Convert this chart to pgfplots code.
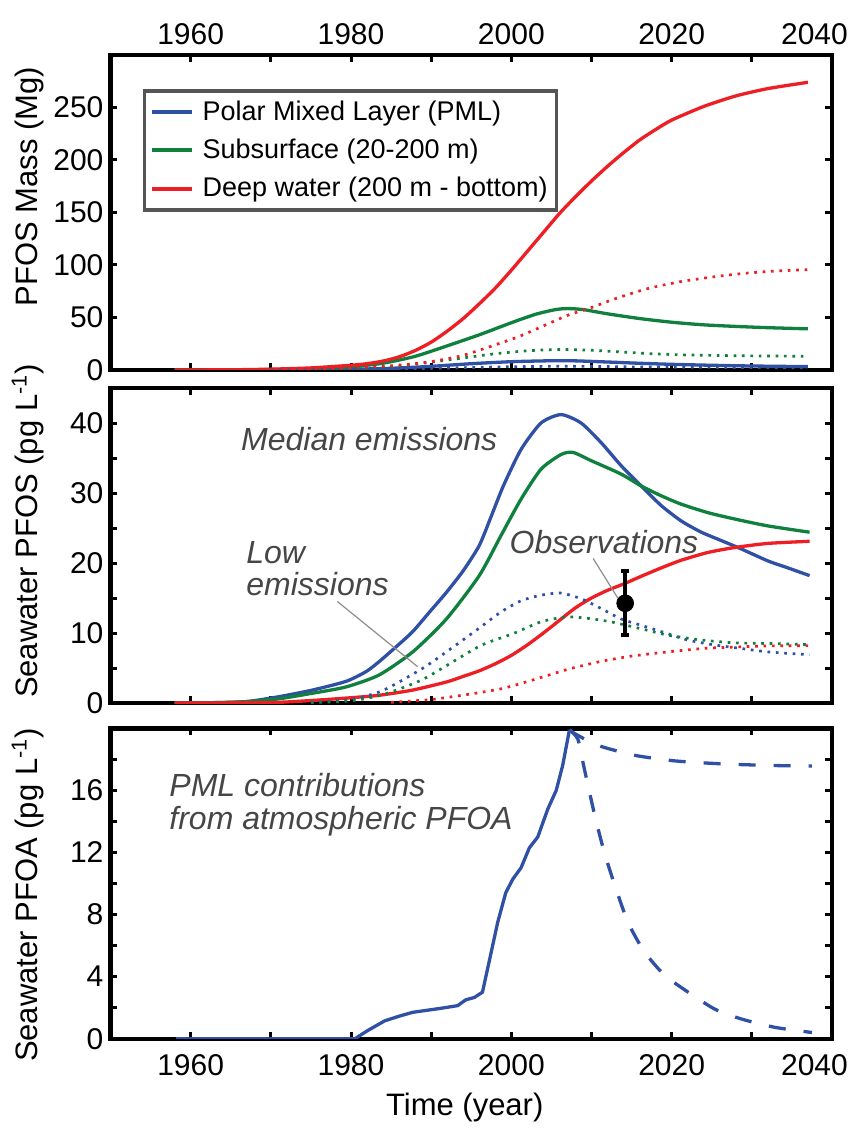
\documentclass[border=0pt]{standalone}
\usepackage{fontspec}
\setmainfont{Liberation Sans}
\usepackage{pgfplots}
\pgfplotsset{compat=1.18}

\definecolor{pblue}{RGB}{48,80,165}
\definecolor{pgreen}{RGB}{16,128,62}
\definecolor{pred}{RGB}{237,30,36}
\definecolor{lgray}{RGB}{85,85,85}
\definecolor{anncol}{RGB}{70,70,70}
\definecolor{leadcol}{RGB}{140,140,140}

\pgfplotsset{
  panel/.style={
    scale only axis, width=360.75pt,
    xmin=1950, xmax=2040,
    xtick={1960,1970,...,2040},
    xtick pos=both, ytick pos=both,
    tick align=inside,
    major tick length=3.5pt,
    tick style={line width=1.5pt, black},
    axis line style={line width=2.2pt, line cap=rect},
    tick label style={font=\fontsize{15}{18}\selectfont},
    label style={font=\fontsize{15.5}{18}\selectfont},
  },
  solid line/.style={line width=1.65pt, smooth, tension=0.4},
  dot line/.style={line width=1.35pt, dash pattern=on 1.35pt off 2.85pt, smooth, tension=0.4},
}
\tikzset{ann/.style={anchor=base west, inner sep=0pt, text=anncol, font=\fontsize{16}{19}\selectfont\itshape}}

\begin{document}
\begin{tikzpicture}

% ---- top: PFOS mass by compartment
\begin{axis}[panel,
  at={(0pt,0pt)}, anchor=south west, height=157.5pt,
  ymin=0, ymax=300,
  ytick={0,50,...,250},
  yticklabels={0,50,100,150,200,250},
  xticklabel pos=upper,
  xticklabels={1960,,1980,,2000,,2020,,\hspace*{-17.5pt}2040},
  xticklabel style={yshift=1.5pt},
  ylabel={PFOS Mass (Mg)},
  ylabel style={at={(axis description cs:-0.1016,0.5825)}, anchor=base},
  legend style={at={(rel axis cs:0.0449,0.891)}, anchor=north west,
    draw=lgray, line width=1.7pt, fill=white,
    font=\fontsize{13.5}{16}\selectfont,
    inner xsep=2.5pt, inner ysep=3pt, row sep=3.8pt, column sep=2.5pt,
    cells={anchor=west}},
  legend image code/.code={\draw[#1, line width=2pt] (0pt,0pt) -- (20pt,0pt);},
]
\addplot[pblue, solid line] coordinates {
 (1958,0) (1970,0.1) (1975,0.3) (1980,0.7) (1985,1.6) (1990,3.5) (1995,6)
 (2000,7.9) (2005,8.8) (2008,8.7) (2012,7.6) (2016,6.4) (2020,5.4) (2025,4.5)
 (2030,3.8) (2037,3.2)};
\addlegendentry{Polar Mixed Layer (PML)}
\addplot[pgreen, solid line] coordinates {
 (1958,0) (1965,0.1) (1970,0.4) (1975,1.2) (1980,3) (1984,6.5) (1988,13)
 (1992,23) (1996,33.5) (2000,45) (2003,53) (2005.5,57.5) (2007,58.5) (2009,57.5)
 (2012,53.5) (2016,49) (2020,45.5) (2024,43) (2028,41.5) (2032,40.3) (2037,39.2)};
\addlegendentry{Subsurface (20-200 m)}
\addplot[pred, solid line] coordinates {
 (1958,0) (1965,0.2) (1970,0.8) (1975,2) (1980,4.5) (1982,6) (1984,8.5)
 (1986,12.5) (1988,18.5) (1990,26.5) (1992,37) (1994,49) (1996,63) (1998,78)
 (2000,95) (2002,113) (2004,131) (2006,149) (2008,165) (2010,180) (2012,194)
 (2014,207) (2016,219) (2018,229) (2020,238) (2024,251) (2028,261) (2032,268)
 (2037,274)};
\addlegendentry{Deep water (200 m - bottom)}
\addplot[pblue, dot line, forget plot] coordinates {
 (1970,0) (1980,0.3) (1985,0.8) (1990,1.5) (1995,2.4) (2000,3.1) (2005,3.5)
 (2010,3.4) (2015,3.0) (2020,2.7) (2030,2.3) (2037,2.1)};
\addplot[pgreen, dot line, forget plot] coordinates {
 (1965,0) (1975,0.3) (1980,1.2) (1985,3) (1990,7.5) (1994,11.5) (1998,15.5)
 (2002,18.3) (2006,19.5) (2010,18.8) (2014,17) (2018,15.3) (2022,14.3)
 (2027,13.7) (2032,13.3) (2037,13.1)};
\addplot[pred, dot line, forget plot] coordinates {
 (1965,0) (1970,0.2) (1975,0.8) (1980,2) (1985,4) (1990,8) (1994,14) (1998,24)
 (2001,32) (2004,42) (2007,52) (2010,59.5) (2013,68) (2017,77.5) (2021,84)
 (2025,88.5) (2029,92) (2033,94.3) (2037,95.5)};
\end{axis}

% ---- middle: seawater PFOS
\begin{axis}[panel,
  at={(0pt,-166.5pt)}, anchor=south west, height=157.5pt,
  ymin=0, ymax=45,
  ytick={0,5,...,40},
  yticklabels={0,,10,,20,,30,,40},
  xticklabels={,,},
  ylabel={Seawater PFOS (pg L\textsuperscript{-1})},
  ylabel style={at={(axis description cs:-0.1016,0.546)}, anchor=base},
]
\addplot[pblue, solid line] coordinates {
 (1958,0) (1963,0.05) (1967,0.2) (1971,0.9) (1975.2,1.85) (1979.4,3.1)
 (1981.9,4.5) (1983.5,5.9) (1985.6,8.0) (1987.7,10.2) (1989.8,13.0)
 (1991.9,15.8) (1994,18.9) (1996,22.5) (1997.5,26.7) (1999,31) (2001.2,36.2)
 (2003.7,40.0) (2006.2,41.2) (2008.7,40.0) (2011.2,37.2) (2013.7,33.9)
 (2016.2,31.0) (2018.7,28.2) (2021.2,26.0) (2023.7,24.4) (2026.2,23.2)
 (2028.7,22.0) (2032,20.3) (2034.5,19.3) (2037.2,18.2)};
\addplot[pgreen, solid line] coordinates {
 (1958,0) (1963,0.05) (1967,0.2) (1971,0.6) (1975.2,1.4) (1979.4,2.3)
 (1983.5,4.0) (1987.7,7.3) (1991.9,12.0) (1996,18.2) (1998.7,23.9)
 (2001.2,29.1) (2003.7,33.4) (2006.2,35.5) (2007.7,35.8) (2010,34.6)
 (2013.7,32.7) (2016.2,31.0) (2018.7,29.6) (2021.2,28.4) (2024.5,27.2)
 (2027.8,26.3) (2032,25.3) (2037.2,24.4)};
\addplot[pred, solid line] coordinates {
 (1958,0) (1966,0.02) (1971,0.1) (1975,0.35) (1979.4,0.7) (1983.5,1.1)
 (1987.7,1.85) (1991.9,3.0) (1994,3.8) (1996,4.6) (1998,5.6) (2000,6.8)
 (2002,8.3) (2004,10.0) (2006,11.8) (2008,13.6) (2010,15.0) (2012,16.1)
 (2014,17.0) (2016.2,18.1) (2018.7,19.3) (2021.2,20.4) (2024.5,21.5)
 (2027.8,22.2) (2032,22.8) (2037.2,23.1)};
\addplot[pblue, dot line] coordinates {
 (1975,0.1) (1980,0.5) (1984,1.8) (1989,5.0) (1992.5,7.8) (1996,10.7)
 (1998.7,13.0) (2001.2,14.6) (2003.7,15.4) (2006.2,15.7) (2008.7,14.9)
 (2011.2,13.5) (2013.7,12.0) (2016.2,11.1) (2018.7,10.2) (2022,9.0)
 (2025.3,8.3) (2028.6,7.8) (2032,7.3) (2037.2,6.9)};
\addplot[pgreen, dot line] coordinates {
 (1975,0.05) (1980,0.3) (1984,1.2) (1989,3.4) (1996,8.1) (2000.2,9.9)
 (2003.7,11.6) (2006.9,12.3) (2009.5,12.1) (2012.4,11.6) (2016.2,10.6)
 (2019.5,9.7) (2023.7,9.0) (2027.8,8.6) (2032,8.5) (2037.2,8.35)};
\addplot[pred, dot line] coordinates {
 (1985,0.1) (1990,0.5) (1995,1.3) (1999,2.1) (2003,3.4) (2007,4.8) (2011,5.9)
 (2015,6.7) (2019.5,7.3) (2024,7.8) (2028,8.0) (2032,8.15) (2037.2,8.2)};
% observation with its range
\addplot[black, mark=*, mark size=4.2pt, only marks,
  error bars/.cd, y dir=both, y explicit,
  error bar style={line width=2pt, black},
  error mark options={rotate=90, mark size=2pt, line width=2pt, black}]
  coordinates {(2014.2,14.25) += (0,4.6) -= (0,4.5)};
\node[ann] at (axis cs:1966.25,36.1) {Median emissions};
\node[ann] at (axis cs:1966.9,19.9) {Low};
\node[ann] at (axis cs:1966.9,15.4) {emissions};
\node[ann] at (axis cs:1999.75,21.4) {Observations};
\draw[leadcol, line width=0.6pt] (axis cs:1978.3,14.5) -- (axis cs:1988.3,5.2);
\draw[leadcol, line width=0.6pt] (axis cs:2010.2,20.65) -- (axis cs:2013.3,14.96);
\end{axis}

% ---- bottom: seawater PFOA
\begin{axis}[panel,
  at={(0pt,-334.35pt)}, anchor=south west, height=155.2pt,
  ymin=0, ymax=20,
  ytick={0,2,...,18},
  yticklabels={0,,4,,8,,12,,16,},
  xticklabels={1960,,1980,,2000,,2020,,\hspace*{-17.5pt}2040},
  xticklabel style={yshift=-4.3pt},
  ylabel={Seawater PFOA (pg L\textsuperscript{-1})},
  ylabel style={at={(axis description cs:-0.1016,0.463)}, anchor=base},
  xlabel={Time (year)},
  xlabel style={at={(axis description cs:0.491,-0.249)}, anchor=base},
]
\addplot[pblue, line width=1.65pt] coordinates {
 (1958.2,0) (1980.5,0) (1982,0.5) (1984.2,1.15) (1986,1.45) (1987.7,1.7)
 (1991.1,1.95) (1993.3,2.13) (1994.3,2.5) (1995.4,2.66) (1996.4,3.0)
 (1997.5,5.6) (1998.3,7.5) (1999.3,9.4) (2000.2,10.3) (2001.2,11.0)
 (2002.25,12.3) (2003.3,13.0) (2004.55,14.8) (2005.6,16.0) (2006.4,17.6)
 (2007.25,19.9)};
\addplot[pblue, line width=1.65pt, dash pattern=on 8.5pt off 9pt, smooth, tension=0.4] coordinates {
 (2007.25,19.9) (2007.9,19.66) (2010.8,18.9) (2015.4,18.26) (2020.4,17.9)
 (2026.6,17.7) (2032.9,17.6) (2037.5,17.57)};
\addplot[pblue, line width=1.65pt, dash pattern=on 8.5pt off 9pt, smooth, tension=0.4] coordinates {
 (2007.25,19.9) (2008.3,19.3) (2009.1,17.4) (2010.4,14.4) (2011.6,12.0)
 (2012.9,9.9) (2014.55,7.5) (2016.6,5.6) (2019.1,4.1) (2022.05,3.0)
 (2025.4,1.9) (2028.7,1.27) (2032.9,0.73) (2037.5,0.4)};
\node[ann] at (axis cs:1957.3,15.6) {PML contributions};
\node[ann] at (axis cs:1957.3,13.5) {from atmospheric PFOA};
\end{axis}

\pgfresetboundingbox
\path[use as bounding box] (-55.25pt,-379pt) rectangle (372.75pt,185pt);
\end{tikzpicture}
\end{document}
